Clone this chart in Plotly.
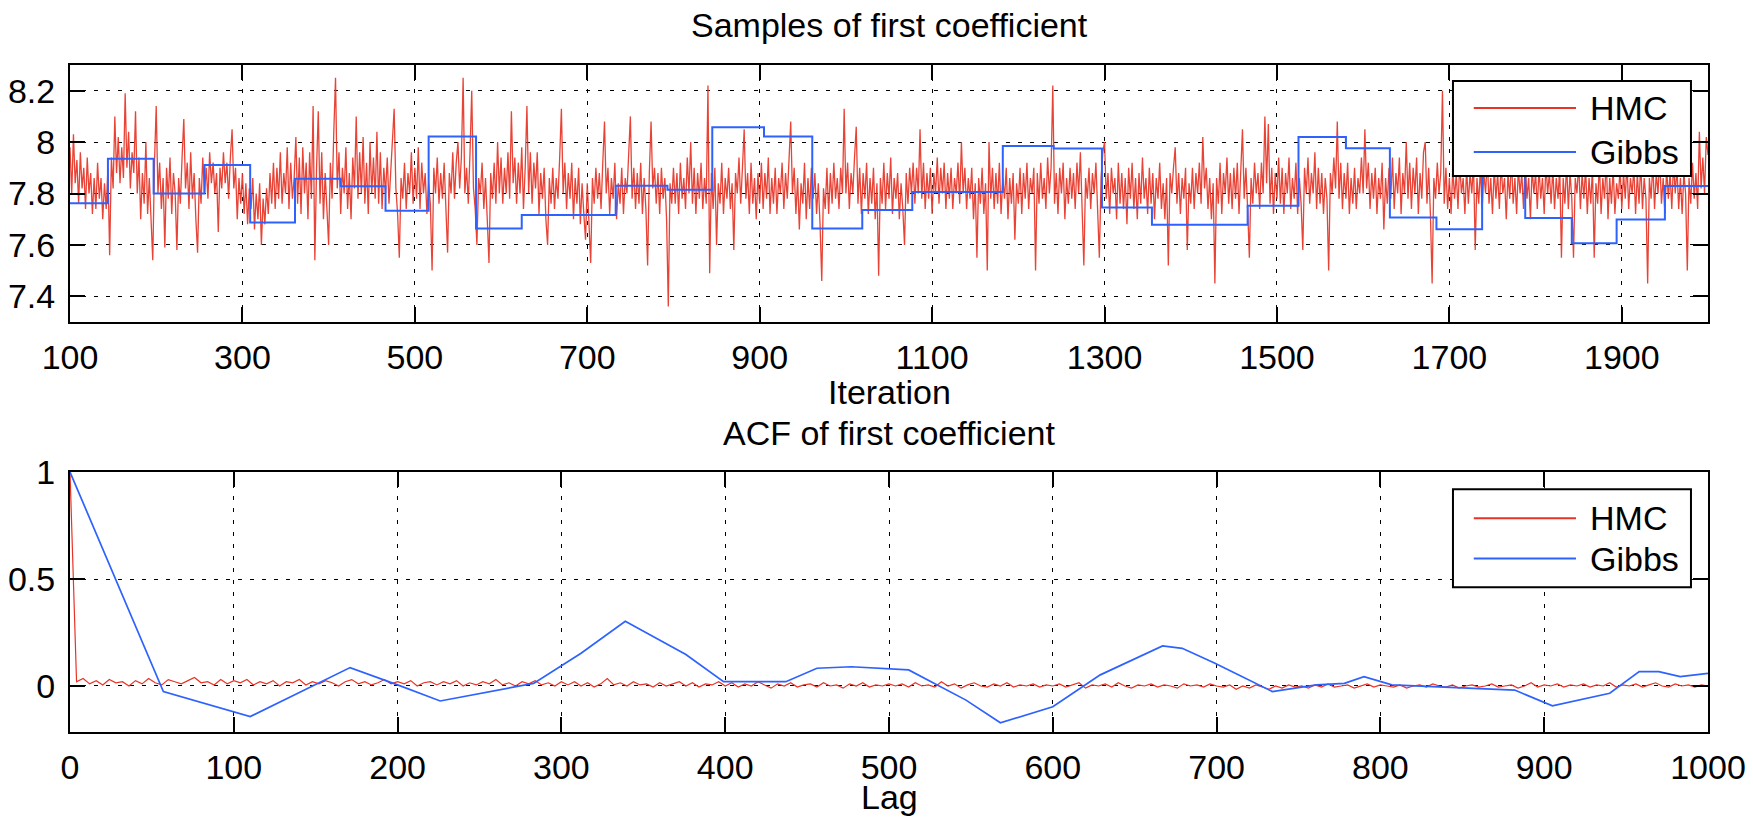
import plotly.graph_objects as go

# ---------------- data ----------------
hmc_iter = list(range(100, 2001, 2))
hmc_samples = [
    # 100-198
    7.98, 7.80, 8.03, 7.84, 7.93, 7.76, 7.96, 7.82, 7.90, 7.74, 7.94, 7.80, 7.88, 7.72, 7.86, 7.74, 7.92, 7.78, 7.86, 7.70,
    7.84, 7.74, 7.90, 7.56, 7.94, 7.82, 8.10, 7.88, 8.02, 7.84, 7.98, 7.86, 8.19, 7.90, 8.04, 7.82, 7.96, 7.88, 8.12, 7.80,
    7.94, 7.70, 7.88, 7.76, 8.00, 7.72, 7.86, 7.66, 7.54, 7.92,
    # 200-298
    8.14, 7.80, 7.92, 7.74, 7.86, 7.59, 7.90, 7.78, 7.94, 7.72, 7.88, 7.80, 7.58, 7.86, 7.76, 7.94, 8.09, 7.82, 7.92, 7.74,
    7.96, 7.78, 7.88, 7.70, 7.57, 7.86, 7.76, 7.94, 7.80, 7.90, 7.78, 7.96, 7.84, 7.92, 7.80, 7.88, 7.65, 7.90, 7.82, 7.96,
    7.84, 7.92, 7.78, 7.94, 8.05, 7.82, 7.90, 7.70, 7.86, 7.76,
    # 300-398
    7.88, 7.72, 7.84, 7.68, 7.82, 7.74, 7.86, 7.66, 7.80, 7.70, 7.84, 7.60, 7.78, 7.68, 7.82, 7.72, 7.88, 7.76, 7.92, 7.74,
    7.90, 7.78, 7.96, 7.76, 7.88, 7.80, 7.98, 7.74, 7.92, 7.78, 7.86, 8.02, 7.76, 7.94, 7.72, 7.98, 7.80, 7.92, 7.70, 7.96,
    7.78, 8.14, 7.54, 7.90, 8.12, 7.76, 7.96, 7.70, 7.88, 7.74,
    # 400-498
    7.60, 7.92, 7.78, 8.04, 8.25, 7.82, 7.96, 7.72, 7.90, 7.80, 7.98, 7.74, 7.88, 7.70, 7.94, 7.82, 8.10, 7.78, 7.96, 7.80,
    8.02, 7.76, 7.92, 7.72, 8.00, 7.80, 7.94, 7.78, 8.04, 7.76, 7.96, 7.74, 7.90, 7.80, 7.94, 7.76, 7.88, 7.96, 8.13, 7.82,
    7.72, 7.55, 7.86, 7.78, 7.92, 7.74, 7.88, 7.80, 7.96, 7.76,
    # 500-598
    7.90, 7.78, 7.98, 7.74, 7.92, 7.80, 7.88, 7.72, 7.84, 7.76, 7.50, 7.90, 7.80, 7.94, 7.76, 7.88, 7.78, 7.92, 7.70, 7.57,
    7.88, 7.80, 7.96, 7.78, 7.92, 8.00, 7.82, 7.94, 8.25, 7.80, 7.90, 7.76, 7.96, 8.20, 7.82, 7.74, 7.60, 7.86, 7.80, 7.92,
    7.74, 7.86, 7.70, 7.53, 7.88, 7.78, 7.92, 7.76, 8.00, 7.80,
    # 600-698
    7.94, 7.76, 7.90, 7.80, 7.96, 7.78, 8.12, 7.84, 7.94, 7.76, 7.92, 7.80, 7.98, 7.74, 7.90, 8.14, 7.80, 7.96, 7.76, 7.92,
    7.82, 7.96, 7.72, 7.88, 7.78, 7.90, 7.70, 7.60, 7.86, 7.76, 7.90, 7.74, 7.86, 7.78, 7.94, 8.13, 7.80, 7.92, 7.74, 7.88,
    7.78, 7.92, 7.70, 7.86, 7.76, 7.90, 7.68, 7.84, 7.72, 7.62,
    # 700-798
    7.84, 7.70, 7.53, 7.86, 7.76, 7.90, 7.78, 7.88, 7.74, 7.92, 8.08, 7.80, 7.90, 7.72, 7.86, 7.78, 7.92, 7.70, 7.84, 7.76,
    7.90, 7.72, 7.86, 7.80, 7.94, 8.10, 7.78, 7.90, 7.74, 7.88, 7.76, 7.92, 7.72, 7.86, 7.74, 7.52, 7.88, 8.08, 7.82, 7.90,
    7.76, 7.88, 7.72, 7.90, 7.78, 7.86, 7.70, 7.36, 7.84, 7.76,
    # 800-898
    7.90, 7.76, 7.88, 7.72, 7.92, 7.78, 7.86, 7.74, 7.94, 7.80, 8.00, 7.76, 7.90, 7.72, 7.88, 7.78, 7.92, 7.74, 7.86, 7.76,
    8.22, 7.49, 7.88, 7.74, 7.90, 7.60, 7.84, 7.76, 7.92, 7.72, 7.86, 7.78, 7.90, 7.74, 7.84, 7.58, 7.88, 7.80, 7.94, 7.76,
    7.90, 8.05, 7.78, 7.88, 7.72, 7.92, 7.76, 7.86, 7.70, 7.88,
    # 900-998
    7.76, 7.92, 7.74, 7.88, 7.78, 7.94, 7.72, 7.86, 7.76, 7.90, 7.72, 7.86, 7.80, 7.92, 7.74, 7.88, 7.78, 7.94, 8.08, 7.80,
    7.90, 7.72, 7.86, 7.66, 7.84, 7.76, 7.92, 7.70, 7.86, 7.74, 7.90, 7.78, 7.88, 7.72, 7.84, 7.68, 7.46, 7.82, 7.74, 7.90,
    7.72, 7.88, 7.76, 7.92, 7.78, 7.86, 7.74, 7.90, 7.80, 8.13,
    # 1000-1098
    7.80, 7.92, 7.74, 7.88, 7.80, 7.94, 8.06, 7.76, 7.90, 7.72, 7.88, 7.78, 7.92, 7.72, 7.86, 7.76, 7.90, 7.70, 7.84, 7.48,
    7.86, 7.76, 7.92, 7.74, 7.88, 7.78, 7.94, 7.72, 7.86, 7.78, 7.88, 7.70, 7.84, 7.74, 7.60, 7.88, 7.76, 7.90, 7.80, 7.92,
    7.76, 7.90, 7.80, 8.05, 7.78, 7.92, 7.74, 7.88, 7.78, 7.90,
    # 1100-1198
    7.72, 7.88, 7.80, 7.94, 7.76, 7.90, 7.80, 7.92, 7.74, 7.88, 7.78, 7.90, 7.74, 7.86, 7.80, 7.92, 7.76, 8.00, 7.80, 7.90,
    7.74, 7.86, 7.78, 7.90, 7.70, 7.84, 7.55, 7.86, 7.76, 7.90, 7.72, 7.84, 7.50, 8.00, 7.78, 7.90, 7.74, 7.88, 7.76, 7.92,
    7.72, 7.86, 7.78, 7.90, 7.70, 7.86, 7.76, 7.88, 7.62, 7.84,
    # 1200-1298
    7.76, 7.90, 7.72, 7.88, 7.78, 7.92, 7.74, 7.86, 7.80, 7.90, 7.50, 7.88, 7.76, 7.92, 7.78, 7.86, 7.74, 7.94, 7.80, 7.90,
    8.22, 7.76, 7.88, 7.72, 7.90, 7.80, 7.92, 7.70, 7.86, 7.76, 7.90, 7.78, 7.88, 7.74, 7.92, 7.80, 7.96, 7.74, 7.52, 7.86,
    7.78, 7.90, 7.74, 7.88, 7.80, 7.92, 7.72, 7.55, 7.86, 7.96,
    # 1300-1398
    8.00, 7.78, 7.88, 7.72, 7.90, 7.80, 7.86, 7.70, 7.92, 7.76, 7.88, 7.74, 7.86, 7.68, 7.90, 7.78, 7.92, 7.74, 7.86, 7.70,
    7.88, 7.76, 7.94, 7.78, 7.86, 7.72, 7.90, 7.76, 7.88, 7.70, 7.86, 7.78, 7.92, 7.74, 7.84, 7.70, 7.86, 7.52, 7.88, 7.80,
    7.90, 7.98, 7.76, 7.88, 7.72, 7.86, 7.78, 7.90, 7.58, 7.84,
    # 1400-1498
    7.76, 7.90, 7.74, 7.88, 7.80, 7.92, 7.76, 8.02, 7.82, 7.90, 7.74, 7.86, 7.70, 7.84, 7.45, 7.86, 7.76, 7.92, 7.72, 7.88,
    7.80, 7.94, 7.76, 7.88, 7.74, 7.90, 7.78, 7.92, 7.72, 7.86, 8.05, 7.78, 7.90, 7.74, 7.55, 7.86, 7.76, 7.92, 7.80, 7.88,
    7.74, 7.92, 7.80, 8.10, 7.84, 8.07, 7.76, 7.90, 7.72, 7.88,
    # 1500-1598
    7.78, 7.94, 7.76, 7.90, 7.72, 7.88, 7.80, 7.94, 7.74, 7.86, 7.78, 7.92, 7.72, 7.86, 7.76, 7.58, 7.90, 7.80, 7.94, 7.76,
    7.88, 7.80, 7.96, 7.74, 7.90, 7.76, 7.88, 7.72, 7.86, 7.78, 7.50, 7.88, 7.80, 7.94, 7.82, 8.08, 7.78, 7.92, 7.74, 7.88,
    7.78, 7.92, 7.72, 7.86, 7.76, 7.90, 7.74, 7.86, 7.80, 7.94,
    # 1600-1698
    7.80, 8.05, 7.82, 7.92, 7.74, 7.88, 7.78, 7.90, 7.72, 7.86, 7.78, 7.92, 7.66, 7.86, 7.76, 7.90, 7.78, 7.94, 7.74, 7.88,
    7.80, 7.94, 7.72, 7.88, 7.80, 8.00, 7.78, 7.92, 7.74, 7.90, 7.80, 7.94, 7.72, 7.88, 7.78, 7.96, 8.00, 7.76, 7.90, 7.72,
    7.45, 7.86, 7.78, 7.92, 7.80, 7.88, 8.20, 7.76, 7.90, 7.74,
    # 1700-1798
    7.86, 7.72, 7.90, 7.78, 7.88, 7.74, 7.92, 7.80, 7.86, 7.72, 7.90, 7.76, 7.88, 7.80, 7.92, 7.58, 7.86, 7.76, 7.90, 7.74,
    7.88, 7.80, 7.94, 7.76, 7.86, 7.72, 7.90, 7.78, 7.88, 7.74, 7.92, 7.80, 7.86, 7.70, 7.88, 7.78, 7.94, 7.76, 7.86, 7.72,
    7.90, 7.80, 7.88, 7.74, 7.92, 7.78, 7.86, 7.70, 7.90, 7.80,
    # 1800-1898
    7.88, 7.74, 7.90, 7.78, 7.86, 7.72, 7.92, 7.80, 7.88, 7.76, 7.90, 7.74, 7.86, 7.78, 7.90, 7.55, 7.86, 7.76, 7.92, 7.74,
    7.88, 7.78, 7.55, 7.86, 7.80, 7.92, 7.74, 7.88, 7.78, 7.90, 7.72, 7.86, 7.76, 7.90, 7.55, 7.84, 7.76, 7.92, 7.72, 7.86,
    7.78, 7.94, 7.70, 7.86, 7.76, 7.90, 7.72, 7.84, 7.78, 7.90,
    # 1900-2000
    7.74, 7.88, 7.78, 7.92, 7.74, 7.86, 7.80, 7.90, 7.72, 7.88, 7.76, 7.92, 7.74, 7.86, 7.78, 7.45, 7.86, 7.78, 7.92, 7.74,
    7.88, 7.80, 7.94, 7.76, 7.86, 7.72, 7.90, 7.78, 7.88, 7.74, 7.92, 7.80, 7.90, 7.74, 7.86, 7.72, 7.88, 7.80, 7.50, 7.86,
    7.76, 7.92, 7.78, 7.88, 7.74, 8.04, 7.82, 7.94, 7.80, 8.02,
    7.95,
]

gibbs_step_start = [100, 144, 197, 256, 309, 361, 414, 466, 516, 571, 624, 733, 793, 845, 905, 961,
                    1019, 1077, 1182, 1241, 1297, 1355, 1466, 1525, 1580, 1631, 1685, 1738, 1788,
                    1842, 1894, 1950, 2000]
gibbs_step_level = [7.762, 7.935, 7.800, 7.911, 7.687, 7.857, 7.828, 7.733, 8.022, 7.664, 7.716, 7.830,
                    7.815, 8.058, 8.022, 7.664, 7.736, 7.806, 7.985, 7.975, 7.746, 7.678, 7.752, 8.020,
                    7.976, 7.707, 7.661, 7.950, 7.705, 7.606, 7.699, 7.829, 7.829]

hmc_acf_lag = [0] + list(range(4, 1001, 4))
hmc_acf = [1.0] + [
    0.02, 0.035, 0.01, 0.025, 0.005, 0.03, 0.015, 0.02, 0.0, 0.025, 0.01, 0.035, 0.015, 0.005, 0.03, 0.02, 0.01, 0.025, 0.04, 0.015, 0.02, 0.005, 0.03, 0.01, 0.025,
    0.015, 0.03, 0.005, 0.02, 0.01, 0.025, 0.0, 0.02, 0.015, 0.03, 0.005, 0.02, 0.01, 0.025, 0.015, 0.0, 0.02, 0.03, 0.01, 0.02, 0.005, 0.015, 0.03, 0.01, 0.02,
    0.01, 0.025, 0.0, 0.015, 0.02, 0.005, 0.02, 0.01, 0.025, 0.0, 0.015, 0.005, 0.02, 0.01, 0.03, 0.005, 0.015, 0.0, 0.02, 0.01, 0.025, 0.005, 0.015, 0.0, 0.02,
    0.005, 0.02, 0.0, 0.015, -0.005, 0.01, 0.035, 0.005, 0.015, 0.0, 0.02, 0.005, 0.01, -0.005, 0.015, 0.0, 0.01, 0.02, 0.0, 0.015, -0.005, 0.01, 0.005, 0.02, 0.0,
    0.015, -0.005, 0.01, 0.0, 0.02, 0.005, -0.01, 0.01, 0.0, 0.015, -0.005, 0.005, 0.01, -0.005, 0.015, 0.0, 0.005, -0.01, 0.01, 0.0, 0.015, -0.005, 0.005, 0.0, 0.01,
    0.0, 0.01, -0.005, 0.015, 0.0, 0.005, -0.005, 0.02, 0.0, 0.01, -0.01, 0.005, 0.015, 0.0, -0.005, 0.01, 0.0, 0.015, -0.005, 0.005, 0.0, 0.01, -0.005, 0.005, 0.0,
    0.01, -0.005, 0.005, 0.015, -0.01, 0.005, 0.0, 0.01, -0.005, 0.015, 0.0, -0.01, 0.005, 0.0, 0.01, -0.005, 0.005, 0.0, -0.01, 0.01, 0.0, 0.005, -0.005, 0.01, 0.0,
    -0.005, 0.005, -0.015, 0.0, -0.01, 0.005, -0.005, -0.015, 0.0, -0.01, 0.005, -0.005, 0.0, -0.01, 0.005, -0.005, 0.01, -0.005, 0.0, 0.005, -0.01, 0.0, 0.01, -0.005, 0.005,
    0.0, -0.005, 0.005, -0.01, 0.0, 0.005, -0.005, 0.01, 0.0, -0.005, 0.005, -0.01, 0.0, 0.005, -0.005, 0.0, 0.01, -0.005, 0.0, 0.005, -0.01, 0.0, 0.015, -0.005, 0.005,
    0.0, 0.01, -0.005, 0.005, 0.0, 0.01, -0.005, 0.005, 0.0, 0.015, -0.005, 0.005, 0.0, 0.01, -0.005, 0.005, 0.015, 0.0, -0.005, 0.01, 0.0, 0.005, -0.005, 0.005, 0.0,
]

gibbs_acf_lag = [0, 57, 110, 171, 200, 226, 283, 312, 339, 376, 399, 437, 456, 477, 512, 547, 568,
                 600, 629, 667, 679, 699, 734, 761, 778, 790, 807, 835, 882, 905, 940, 958, 970, 983, 1000]
gibbs_acf = [1.0, -0.026, -0.143, 0.086, 0.005, -0.07, 0.012, 0.153, 0.302, 0.147, 0.02, 0.02, 0.083,
             0.09, 0.075, -0.066, -0.172, -0.097, 0.052, 0.187, 0.176, 0.106, -0.026, 0.005, 0.012,
             0.044, 0.005, -0.003, -0.019, -0.093, -0.034, 0.067, 0.067, 0.044, 0.059]

top_xticks = [100, 300, 500, 700, 900, 1100, 1300, 1500, 1700, 1900]
top_yticks = [7.4, 7.6, 7.8, 8.0, 8.2]
top_yticktext = ["7.4", "7.6", "7.8", "8", "8.2"]
bot_xticks = [0, 100, 200, 300, 400, 500, 600, 700, 800, 900, 1000]
bot_yticks = [0, 0.5, 1]
bot_yticktext = ["0", "0.5", "1"]

series_names = ["HMC", "Gibbs"]

# ---------------- styling ----------------
W, H = 1753, 822
ML, MR, MT, MB = 70, 45, 65, 90          # plot block occupies x 70..1708, y 65..732
PW, PH = W - ML - MR, H - MT - MB
RED = "rgb(232,52,38)"
BLUE = "rgb(45,98,255)"
FONT = "Liberation Sans, Arial, Helvetica, sans-serif"
FS = 34

def px_x(p):
    return (p - ML) / PW

def px_y(p):
    return (H - MB - p) / PH

top_dom = [px_y(322), 1.0]
bot_dom = [0.0, px_y(472)]

fig = go.Figure()
fig.add_trace(go.Scatter(x=hmc_iter, y=hmc_samples, mode="lines", name=series_names[0],
                         line=dict(color=RED, width=1.3), opacity=0.92, xaxis="x", yaxis="y", showlegend=False))
fig.add_trace(go.Scatter(x=gibbs_step_start, y=gibbs_step_level, mode="lines", name=series_names[1],
                         line=dict(color=BLUE, width=2, shape="hv"), xaxis="x", yaxis="y", showlegend=False))
fig.add_trace(go.Scatter(x=hmc_acf_lag, y=hmc_acf, mode="lines", name=series_names[0],
                         line=dict(color=RED, width=1.2), xaxis="x2", yaxis="y2", showlegend=False))
fig.add_trace(go.Scatter(x=gibbs_acf_lag, y=gibbs_acf, mode="lines", name=series_names[1],
                         line=dict(color=BLUE, width=1.7), xaxis="x2", yaxis="y2", showlegend=False))

axis_common = dict(showline=True, linecolor="black", linewidth=2, mirror="ticks",
                   ticks="inside", ticklen=15, tickwidth=2, tickcolor="black",
                   showgrid=True, gridcolor="black", gridwidth=1.4, griddash="4px,8px",
                   zeroline=False, automargin=False,
                   tickfont=dict(family=FONT, size=FS, color="black"))

fig.update_layout(
    width=W, height=H, margin=dict(l=ML, r=MR, t=MT, b=MB, autoexpand=False),
    paper_bgcolor="white", plot_bgcolor="white",
    xaxis=dict(domain=[0, 1], anchor="y", range=[100, 2000], tickvals=top_xticks, ticklabelstandoff=4, **axis_common),
    yaxis=dict(domain=top_dom, anchor="x", range=[7.3, 8.3], tickvals=top_yticks, ticktext=top_yticktext,
               ticklabelstandoff=6, **axis_common),
    xaxis2=dict(domain=[0, 1], anchor="y2", range=[0, 1000], tickvals=bot_xticks, ticklabelstandoff=4, **axis_common),
    yaxis2=dict(domain=bot_dom, anchor="x2", range=[-0.215, 1], tickvals=bot_yticks, ticktext=bot_yticktext,
                ticklabelstandoff=6, **axis_common),
    font=dict(family=FONT, size=FS, color="black"),
)

# titles and axis labels
cx = px_x(889)
for text, py in [("Samples of first coefficient", 25), ("Iteration", 392),
                 ("ACF of first coefficient", 433), ("Lag", 797)]:
    fig.add_annotation(text=text, x=cx, y=px_y(py), xref="paper", yref="paper",
                       showarrow=False, xanchor="center", yanchor="middle",
                       font=dict(family=FONT, size=FS, color="black"))

# legends (drawn inside each axes)
def add_legend(xref, yref, box, rows):
    x0, x1, y0, y1 = box
    fig.add_shape(type="rect", xref=xref, yref=yref, x0=x0, x1=x1, y0=y0, y1=y1,
                  fillcolor="white", line=dict(color="black", width=2), layer="above")
    for (name, color, yy) in rows:
        fig.add_shape(type="line", xref=xref, yref=yref, x0=0.857, x1=0.9194, y0=yy, y1=yy,
                      line=dict(color=color, width=2), layer="above")
        fig.add_annotation(text=name, x=0.9265, y=yy, xref=xref, yref=yref, showarrow=False,
                           xanchor="left", yanchor="middle",
                           font=dict(family=FONT, size=FS, color="black"))

add_legend("x domain", "y domain", (0.8443, 0.9896, 0.568, 0.9377),
           [(series_names[0], RED, 0.8327), (series_names[1], BLUE, 0.6615)])
add_legend("x2 domain", "y2 domain", (0.8443, 0.9896, 0.557, 0.9335),
           [(series_names[0], RED, 0.8222), (series_names[1], BLUE, 0.6673)])

fig.write_html("out.html")
